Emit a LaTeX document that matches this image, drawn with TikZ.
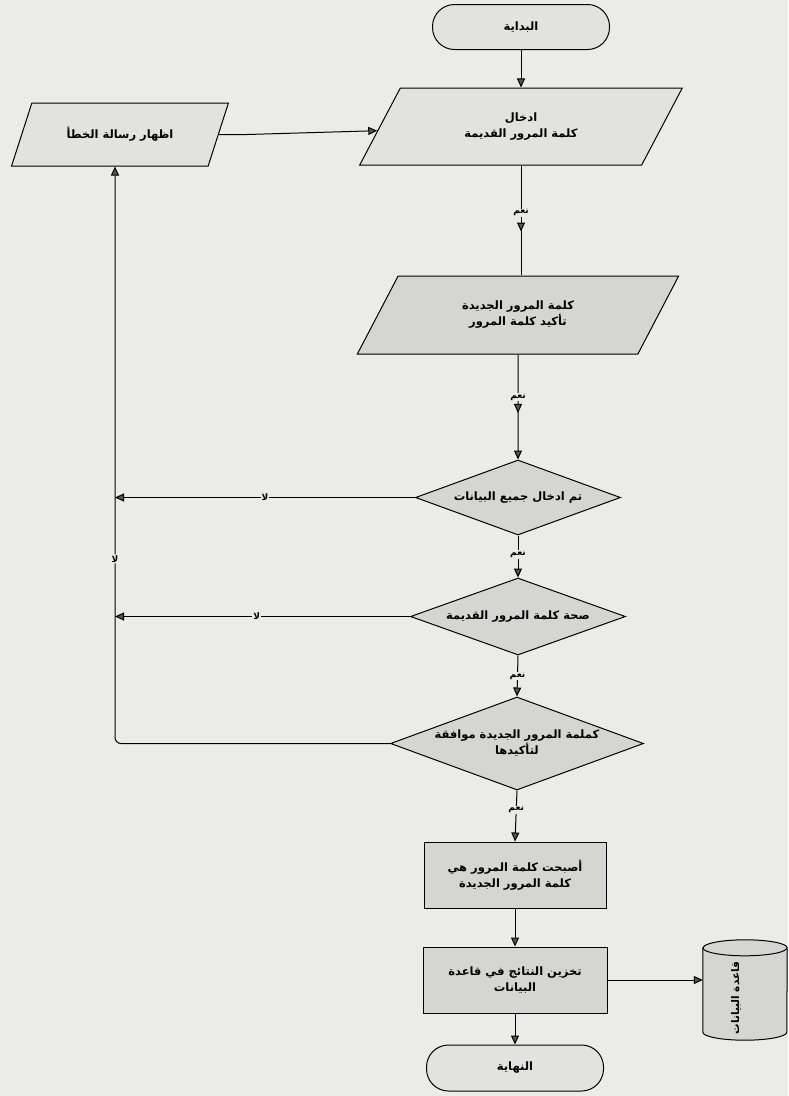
\documentclass[tikz,border=0pt]{standalone}
\usepackage{fontspec}
\newfontfamily\arabicfont[Script=Arabic]{DejaVu Sans}
\TeXXeTstate=1
\usetikzlibrary{shapes.geometric,arrows.meta,decorations.markings,calc}
\newcommand{\artxt}[1]{\beginR #1\endR}

\definecolor{paper}{HTML}{EBEBE7}
\definecolor{boxgray}{HTML}{D5D5D1}
\definecolor{lightbox}{HTML}{E2E2DE}
\definecolor{tipgray}{HTML}{555555}

\tikzset{
  x=1pt, y=-1pt,
  base/.style={font=\arabicfont\bfseries\fontsize{11.5}{16}\selectfont, align=center, line width=1pt},
  term/.style={base, draw, rounded corners=22pt, fill=lightbox, minimum width=177, minimum height=45},
  io/.style={base, trapezium, trapezium left angle=58, trapezium right angle=122,
             trapezium stretches=true, draw, inner sep=2pt},
  dec/.style={base, diamond, draw, fill=boxgray, inner sep=0pt},
  proc/.style={base, rectangle, draw, fill=boxgray},
  tip/.style={-{Triangle[length=9pt,width=8pt,fill=tipgray]}},
  line/.style={draw, line width=1pt},
  flow/.style={line, tip},
  midtip/.style={postaction={decorate}, decoration={markings,
      mark=at position #1 with {\arrow{Triangle[length=9pt,width=8pt,fill=tipgray]}}}},
  lbl/.style={font=\arabicfont\bfseries\fontsize{9}{10}\selectfont, fill=paper, inner sep=1pt},
}

\begin{document}
\begin{tikzpicture}
  % page background
  \fill[paper] (0,0) rectangle (788,1096);
  \useasboundingbox (0,0) rectangle (788,1096);

  % main column
  \node[term] (start) at (521,27) {\artxt{البداية}};
  \node[io, fill=lightbox, minimum width=323, minimum height=77] (in) at (521,126.5)
    {\artxt{ادخال}\\\artxt{كلمة المرور القديمة}};
  \node[io, fill=boxgray, minimum width=322, minimum height=78] (pw) at (518,315)
    {\artxt{كلمة المرور الجديدة}\\\artxt{تأكيد كلمة المرور}};
  \node[dec, aspect=2.73, minimum width=205, minimum height=75] (d1) at (518,497.5)
    {\artxt{تم ادخال جميع البيانات}};
  \node[dec, aspect=2.79, minimum width=215, minimum height=77] (d2) at (518,616.5)
    {\artxt{صحة كلمة المرور القديمة}};
  \node[dec, aspect=2.72, minimum width=253, minimum height=93] (d3) at (517,743.5)
    {\artxt{كملمة المرور الجديدة موافقة}\\\artxt{لتأكيدها}};
  \node[proc, minimum width=182, minimum height=66] (p1) at (515,875)
    {\artxt{أصبحت كلمة المرور هي}\\\artxt{كلمة المرور الجديدة}};
  \node[proc, minimum width=184, minimum height=66] (p2) at (515,980)
    {\artxt{تخزين النتائج في قاعدة}\\\artxt{البيانات}};
  \node[term, minimum height=46] (end) at (515,1068) {\artxt{النهاية}};

  % error message
  \node[io, trapezium left angle=55, trapezium right angle=125, fill=lightbox,
        minimum width=217, minimum height=63] (err) at (120,134.5)
    {\artxt{اظهار رسالة الخطأ}};

  % database cylinder
  \node[minimum width=84, minimum height=100, inner sep=0pt] (db) at (745,990) {};
  \draw[line width=1pt, fill=boxgray]
    ($(db.north west)+(0pt,-8pt)$) -- ($(db.south west)+(0pt,8pt)$)
    arc[start angle=180, end angle=360, x radius=42pt, y radius=8pt]
    -- ($(db.north east)+(0pt,-8pt)$)
    arc[start angle=0, end angle=180, x radius=42pt, y radius=8pt] -- cycle;
  \draw[line width=1pt] ($(db.north west)+(0pt,-8pt)$)
    arc[start angle=180, end angle=360, x radius=42pt, y radius=8pt];
  \node[base, font=\arabicfont\bfseries\fontsize{10.5}{12}\selectfont, rotate=90]
    (dbtext) at (736,998) {\artxt{قاعدة البيانات}};

  % return line on the left
  \coordinate (lp) at (115,0);

  % connectors
  \draw[flow] (start.south) -- (start.south |- in.north);
  \draw[flow] (err.east) -- ++(28,0) -- (in);
  \draw[line, midtip=0.6] (in.south) -- node[lbl, pos=0.43] {\artxt{نعم}} (in.south |- pw.north);
  \draw[flow, midtip=0.557] (pw.south) -- node[lbl, pos=0.405] {\artxt{نعم}} (d1.north);
  \draw[flow] (d1.south) -- node[lbl, pos=0.45] {\artxt{نعم}} (d2.north);
  \draw[flow] (d2.south) -- node[lbl, pos=0.5] {\artxt{نعم}} (d3.north);
  \draw[flow] (d3.south) -- node[lbl, pos=0.38] {\artxt{نعم}} (p1.north);
  \draw[flow] (p1.south) -- (p2.north);
  \draw[flow] (p2.south) -- (end.north);
  \draw[flow] (p2.east) -- (p2.east -| db.west);

  \draw[flow] (d1.west) -- node[lbl, pos=0.5] {\artxt{لا}} (d1.west -| lp);
  \draw[flow] (d2.west) -- node[lbl, pos=0.52] {\artxt{لا}} (d2.west -| lp);
  \draw[flow, rounded corners=6pt] (d3.west) -- (d3.west -| lp)
    -- node[lbl, pos=0.32] {\artxt{لا}} (err.south -| lp);
\end{tikzpicture}
\end{document}
